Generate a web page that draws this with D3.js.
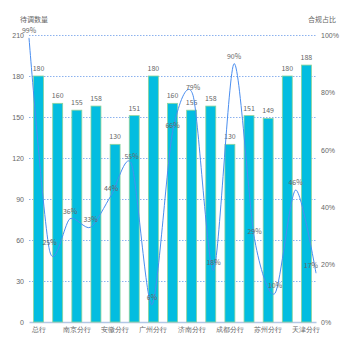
<!DOCTYPE html>
<html>
<head>
<meta charset="utf-8">
<script src="https://cdn.jsdelivr.net/npm/d3@7/dist/d3.min.js"></script>
<style>
  html, body { margin: 0; padding: 0; background: #fff; }
  svg { display: block; font-family: "Noto Sans CJK SC", "Noto Sans", sans-serif; }
</style>
</head>
<body>
<div id="chart"></div>
<script>
// Branch names (only every other one is shown on the axis)
const branches = ["总行", "上海分行", "南京分行", "杭州分行", "安徽分行", "福州分行", "广州分行",
  "深圳分行", "济南分行", "青岛分行", "成都分行", "重庆分行", "苏州分行", "北京分行", "天津分行"];
// Count per branch (bars, left axis)
const counts = [180, 160, 155, 158, 130, 151, 180, 160, 155, 158, 130, 151, 149, 180, 188];
// Compliance ratio per branch, percent (line, right axis)
const ratios = [99, 25, 36, 33, 44, 55, 6, 66, 79, 18, 90, 29, 10, 46, 17];
// Axis ticks
const leftTicks = [0, 30, 60, 90, 120, 150, 180, 210];
const rightTicks = [0, 20, 40, 60, 80, 100];
const leftName = "待调数量";
const rightName = "合规占比";

const W = 350, H = 350;
const m = { left: 29, right: 34, top: 35, bottom: 28 };
const iw = W - m.left - m.right, ih = H - m.top - m.bottom;
const textColor = "#666";

const svg = d3.select("#chart").append("svg").attr("width", W).attr("height", H);
const g = svg.append("g").attr("transform", `translate(${m.left},${m.top})`);

const x = d3.scaleBand().domain(branches).range([0, iw]).paddingInner(0.48).paddingOuter(0.24);
const xp = d3.scalePoint().domain(branches).range([0, iw]);
const yL = d3.scaleLinear().domain([0, 210]).range([ih, 0]);
const yR = d3.scaleLinear().domain([0, 100]).range([ih, 0]);

// Grid lines
g.append("g").selectAll("line").data(leftTicks.filter(d => d > 0)).join("line")
  .attr("x1", 0).attr("x2", iw)
  .attr("y1", d => yL(d) + 0.5).attr("y2", d => yL(d) + 0.5)
  .attr("stroke", "#8cb2ee").attr("stroke-width", 1).attr("stroke-dasharray", "1.5,1.5");

// Left axis labels
const leftAxis = g.append("g").call(d3.axisLeft(yL).tickValues(leftTicks).tickSize(0).tickPadding(5));
leftAxis.select(".domain").remove();
leftAxis.selectAll("text").attr("fill", textColor).attr("font-size", 7);

// Right axis labels
const rightAxis = g.append("g").attr("transform", `translate(${iw},0)`)
  .call(d3.axisRight(yR).tickValues(rightTicks).tickSize(0).tickPadding(5).tickFormat(d => d + "%"));
rightAxis.select(".domain").remove();
rightAxis.selectAll("text").attr("fill", textColor).attr("font-size", 7);

// Bottom axis
const bottomAxis = g.append("g").attr("transform", `translate(0,${ih})`)
  .call(d3.axisBottom(x).tickSize(0).tickPadding(5).tickFormat((d, i) => i % 2 === 0 ? d : ""));
bottomAxis.select(".domain").attr("stroke", "#b4c8e6").attr("stroke-width", 1.5);
bottomAxis.selectAll("text").attr("fill", textColor).attr("font-size", 7);

// Axis names
g.append("text").attr("x", -9).attr("y", -13).attr("font-size", 7).attr("fill", textColor).text(leftName);
g.append("text").attr("x", iw - 8).attr("y", -13).attr("font-size", 7).attr("fill", textColor).text(rightName);

// Bars
g.append("g").selectAll("rect").data(counts).join("rect")
  .attr("x", (d, i) => x(branches[i]))
  .attr("y", d => yL(d))
  .attr("width", x.bandwidth())
  .attr("height", d => ih - yL(d))
  .attr("fill", "#03bde0")
  .attr("stroke", "#8fd49a").attr("stroke-width", 0.8);

g.append("g").selectAll("text").data(counts).join("text")
  .attr("x", (d, i) => x(branches[i]) + x.bandwidth() / 2)
  .attr("y", d => yL(d) - 5)
  .attr("text-anchor", "middle").attr("font-size", 7).attr("fill", textColor)
  .text(d => d);

// Ratio line
const line = d3.line()
  .x((d, i) => xp(branches[i]))
  .y(d => yR(d))
  .curve(d3.curveCardinal.tension(0.2));
g.append("path").datum(ratios)
  .attr("d", line).attr("fill", "none")
  .attr("stroke", "#4a8ef0").attr("stroke-width", 1);

// Ratio labels; the last one sits left of its point to clear the right axis labels
g.append("g").selectAll("text").data(ratios).join("text")
  .attr("x", (d, i) => xp(branches[i]) + (i === ratios.length - 1 ? 2 : 0))
  .attr("y", d => yR(d) - 5)
  .attr("text-anchor", (d, i) => i === ratios.length - 1 ? "end" : "middle")
  .attr("font-size", 7).attr("fill", textColor)
  .text(d => d + "%");
</script>
</body>
</html>
